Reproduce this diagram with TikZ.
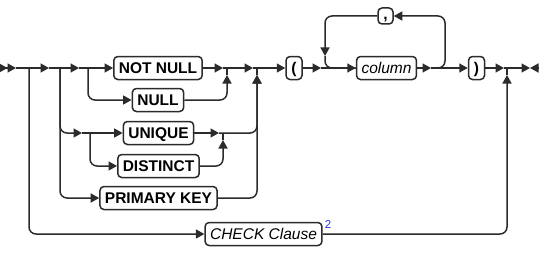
\documentclass[tikz,border=0pt]{standalone}
\usepackage{fontspec}
\setmainfont{Liberation Sans}
\usetikzlibrary{arrows.meta}
\definecolor{linecol}{HTML}{2B2B2B}
\definecolor{noteblue}{HTML}{3030F0}

\begin{document}
\begin{tikzpicture}[
    x=1pt, y=-1pt,
    kw/.style={rectangle, draw=linecol, line width=1.5pt, rounded corners=4pt, fill=white, minimum height=23pt, inner xsep=5pt, inner ysep=0pt, text height=11.2pt, text depth=0pt, font=\fontsize{15.5}{16}\selectfont\bfseries},
    ref/.style={kw, font=\fontsize{15.5}{16}\selectfont\itshape},
    line/.style={draw=linecol, line width=1.5pt, rounded corners=7pt},
    arrow/.style={line, -{Triangle[length=8.5pt, width=9pt]}},
    dblarrow/.style={line, -{Triangle[length=8.5pt, width=9pt] Triangle[length=8.5pt, width=9pt]}}
]
    \useasboundingbox (0,0) rectangle (545,254);

    % Boxes
    \node[kw] (notnull) at (158,68) {NOT NULL};
    \node[kw] (null) at (158,100) {NULL};
    \node[kw] (unique) at (158.5,133) {UNIQUE};
    \node[kw] (distinct) at (158.5,166) {DISTINCT};
    \node[kw] (pkey) at (158.5,198) {PRIMARY KEY};
    \node[ref] (check) at (263.5,234) {CHECK Clause};
    \node[anchor=west, inner sep=2pt, text=noteblue, font=\fontsize{11.5}{11.5}\selectfont] (note) at ([yshift=-3pt]check.north east) {2};
    \node[kw, minimum width=16pt] (lpar) at (294,68) {(};
    \node[ref] (column) at (386.5,68) {column};
    \node[kw, minimum width=15pt, minimum height=16pt, text height=7pt] (comma) at (385.5,16) {,};
    \node[kw, minimum width=16pt] (rpar) at (476.5,68) {)};

    % Junctions
    \coordinate (s) at (0,68);
    \coordinate (t0) at (16,68);
    \coordinate (j1) at (29,68);
    \coordinate (t1) at (49,68);
    \coordinate (j2) at (60,68);
    \coordinate (t2) at (79,68);
    \coordinate (j3) at (88,68);
    \coordinate (t3) at (223,68);
    \coordinate (m1) at (227,68);
    \coordinate (u1) at (227,75);
    \coordinate (t5) at (253,68);
    \coordinate (m2) at (257,68);
    \coordinate (u2) at (257,75);
    \coordinate (t4) at (82,133);
    \coordinate (j4) at (90,133);
    \coordinate (t9) at (219,133);
    \coordinate (m4) at (223,133);
    \coordinate (u4) at (223,140);
    \coordinate (t6) at (321,68);
    \coordinate (k1) at (325,68);
    \coordinate (l1) at (325,56);
    \coordinate (t7) at (431,68);
    \coordinate (k2) at (445,68);
    \coordinate (t8) at (504,68);
    \coordinate (m3) at (507,68);
    \coordinate (u3) at (507,75);
    \coordinate (e1) at (530,68);
    \coordinate (e2) at (538,68);

    % Main line
    \draw[dblarrow] (s) -- (t0);
    \draw[line] (t0) -- (j1);
    \draw[arrow] (j1) -- (t1);
    \draw[line] (t1) -- (j2);
    \draw[arrow] (j2) -- (t2);
    \draw[line] (t2) -- (j3);
    \draw[arrow] (j3) -- (notnull);
    \draw[arrow] (notnull) -- (t3);
    \draw[line] (t3) -- (m1);
    \draw[arrow] (m1) -- (t5);
    \draw[line] (t5) -- (m2);
    \draw[arrow] (m2) -- (lpar);
    \draw[arrow] (lpar) -- (t6);
    \draw[line] (t6) -- (k1);
    \draw[arrow] (k1) -- (column);
    \draw[arrow] (column) -- (t7);
    \draw[line] (t7) -- (k2);
    \draw[arrow] (k2) -- (rpar);
    \draw[arrow] (rpar) -- (t8);
    \draw[line] (t8) -- (m3);
    \draw[arrow] (m3) -- (e1);
    \draw[arrow] (e2) -- (e1);

    % Branches
    \draw[arrow] (j3) |- (null);
    \draw[arrow] (null) -| (u1);
    \draw[line] (u1) -- (m1);
    \draw[arrow] (j2) |- (pkey);
    \draw[arrow] (j2) |- (t4);
    \draw[line] (t4) -- (j4);
    \draw[arrow] (j4) -- (unique);
    \draw[arrow] (j4) |- (distinct);
    \draw[arrow] (unique) -- (t9);
    \draw[arrow] (t9) -| (u2);
    \draw[arrow] (distinct) -| (u4);
    \draw[line] (u4) -- (m4);
    \draw[arrow] (pkey) -| (u2);
    \draw[line] (u2) -- (m2);
    \draw[arrow] (j1) |- (check);
    \draw[arrow] (check) -| (u3);
    \draw[line] (u3) -- (m3);

    % Repeat loop
    \draw[arrow] (t7) -- (k2) |- (comma);
    \draw[arrow] (comma) -| (l1);
    \draw[line] (l1) |- (column);
\end{tikzpicture}
\end{document}
